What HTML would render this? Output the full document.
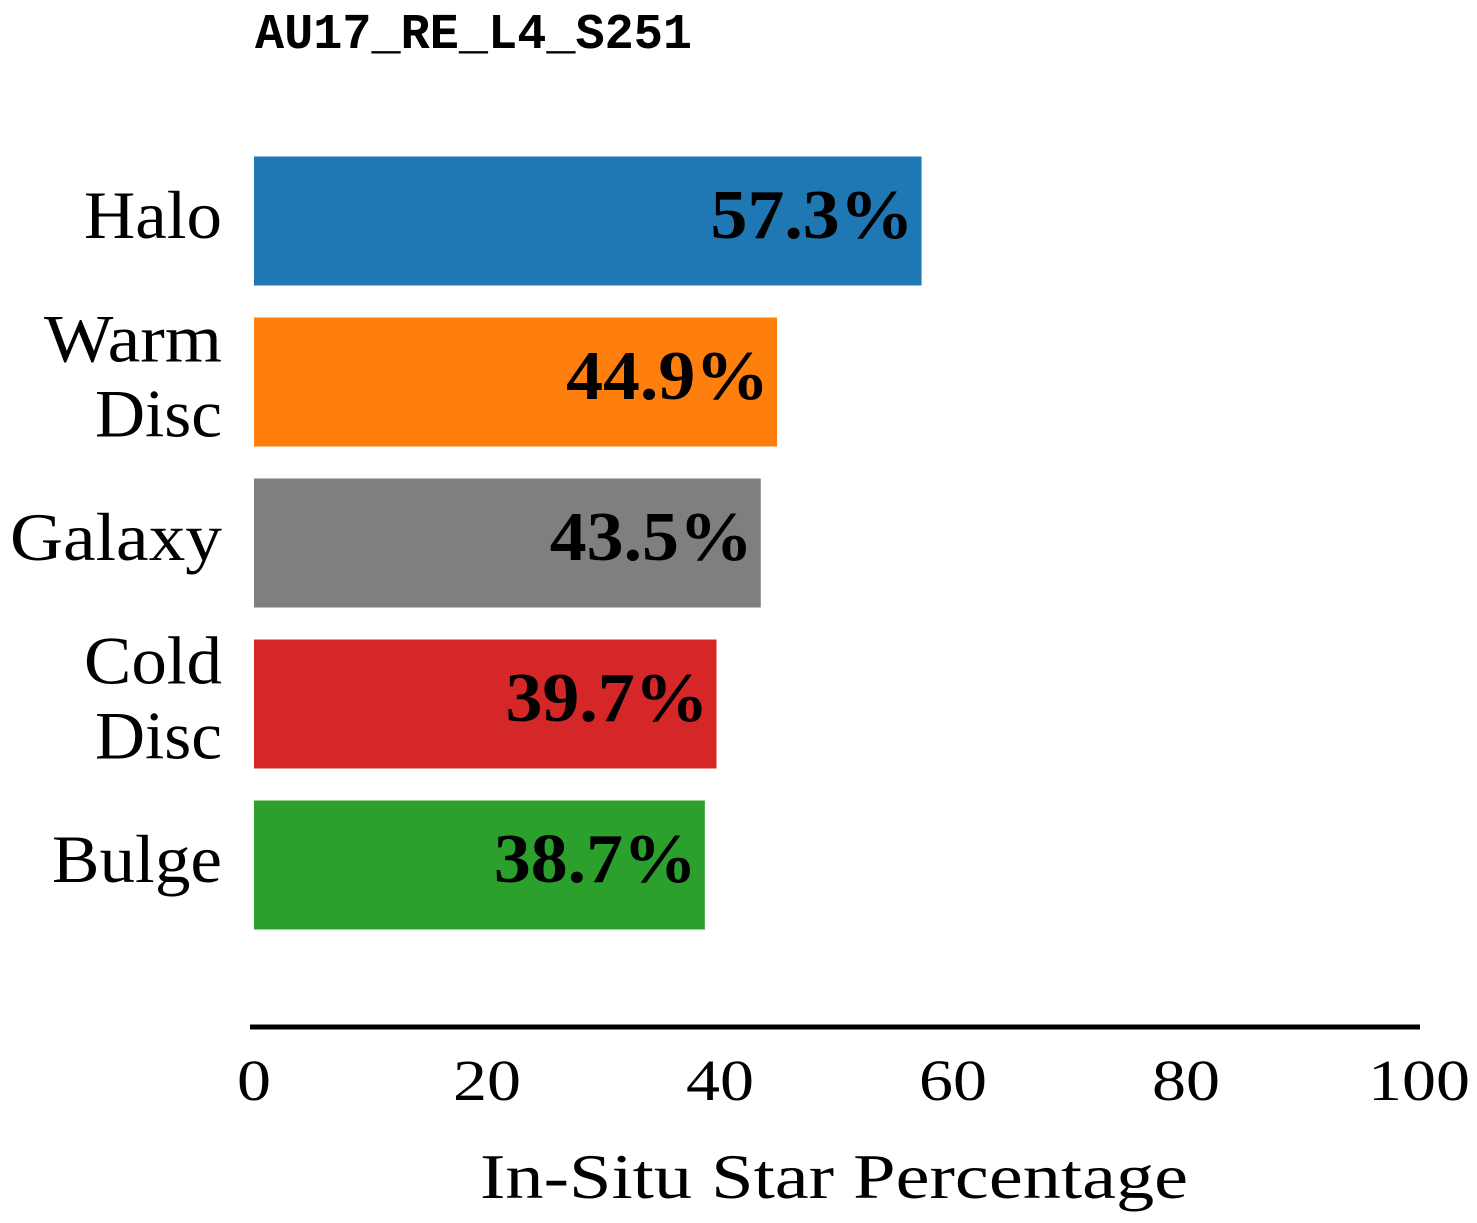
<!DOCTYPE html>
<html><head><meta charset="utf-8"><style>
html,body{margin:0;padding:0;background:#fff;}
svg{display:block;}
</style></head><body>
<svg id="chart" width="1477" height="1223" xmlns="http://www.w3.org/2000/svg">
<text x="255" y="48" font-family="Liberation Mono, monospace" font-size="50" font-weight="bold" textLength="437" lengthAdjust="spacingAndGlyphs">AU17_RE_L4_S251</text>
<g id="bars"></g>
<line x1="250" y1="1027" x2="1420" y2="1027" stroke="#000" stroke-width="5"/>
<g id="ticks"></g>
<text x="480" y="1198" font-family="Liberation Serif, serif" font-size="64" textLength="708" lengthAdjust="spacingAndGlyphs">In-Situ Star Percentage</text>
</svg>
<script>
const categories = [["Halo"],["Warm","Disc"],["Galaxy"],["Cold","Disc"],["Bulge"]];
const values = [57.3, 44.9, 43.5, 39.7, 38.7];
const colors = ["#1f77b4","#ff7f0e","#7f7f7f","#d62728","#2ca02c"];
const tickValues = [0,20,40,60,80,100];
const NS="http://www.w3.org/2000/svg";
const x0=254, x1=1419;
function xs(v){return x0+(x1-x0)*v/100;}
function yc(i){return 221+i*161;}
const barH=129;
const charW={ "Halo":138,"Warm":178,"Disc":127,"Galaxy":212,"Cold":138,"Bulge":170 };
const gb=document.getElementById('bars');
values.forEach((v,i)=>{
  const r=document.createElementNS(NS,'rect');
  
  
  r.setAttribute('x',xs(0));r.setAttribute('y',yc(i)-barH/2);
  r.setAttribute('width',xs(v)-xs(0));r.setAttribute('height',barH);
  r.setAttribute('fill',colors[i]);gb.appendChild(r);
  const t=document.createElementNS(NS,'text');
  
  
  t.setAttribute('x',xs(v)-8);t.setAttribute('y',yc(i)+17);
  t.setAttribute('text-anchor','end');t.setAttribute('font-family','Liberation Serif, serif');
  t.setAttribute('font-weight','bold');t.setAttribute('font-size','70');
  t.setAttribute('textLength','203');t.setAttribute('lengthAdjust','spacingAndGlyphs');
  t.textContent=v.toFixed(1)+'%';gb.appendChild(t);
  const lines=categories[i];
  lines.forEach((s,j)=>{
    const c=document.createElementNS(NS,'text');
    
    
    c.setAttribute('x',222);
    c.setAttribute('y',yc(i)+17+(j-(lines.length-1)/2)*75);
    c.setAttribute('text-anchor','end');c.setAttribute('font-family','Liberation Serif, serif');
    c.setAttribute('font-size','68');
    if(charW[s]){c.setAttribute('textLength',charW[s]);c.setAttribute('lengthAdjust','spacingAndGlyphs');}
    c.textContent=s;gb.appendChild(c);
  });
});
const gt=document.getElementById('ticks');
tickValues.forEach(v=>{
  const t=document.createElementNS(NS,'text');
  
  
  t.setAttribute('x',xs(v));t.setAttribute('y',1100);
  t.setAttribute('text-anchor','middle');t.setAttribute('font-family','Liberation Serif, serif');
  t.setAttribute('font-size','58');
  t.setAttribute('textLength',String(v).length*34);t.setAttribute('lengthAdjust','spacingAndGlyphs');
  t.textContent=v;gt.appendChild(t);
});
</script>
</body></html>
